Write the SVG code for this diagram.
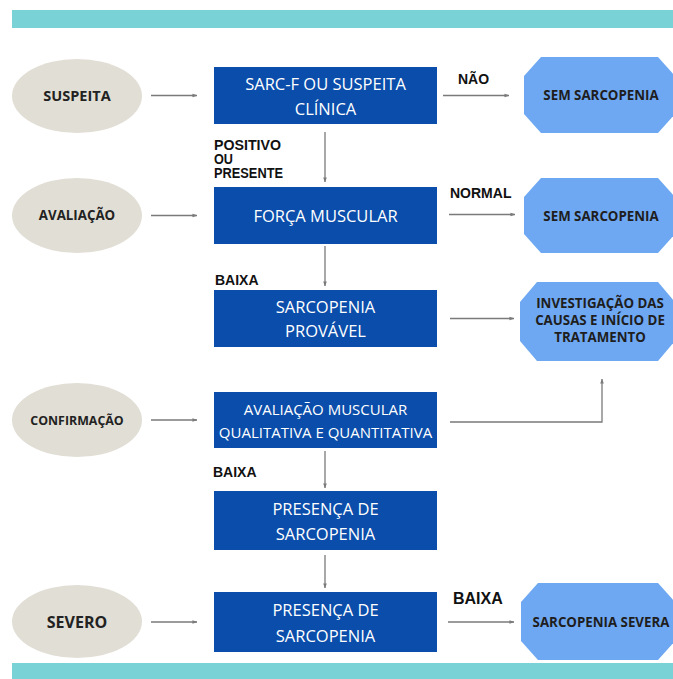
<svg xmlns="http://www.w3.org/2000/svg" width="673" height="679" viewBox="0 0 673 679">
<style>
.bar{fill:#79D2D6}
.stage{fill:#E1DED5}
.box{fill:#0A4DAA}
.oct{fill:#6FA8F2}
.st{font-family:"Open Sans","Noto Sans",sans-serif;font-weight:bold;fill:#222;text-anchor:middle}
.bt{font-family:"Open Sans","Noto Sans",sans-serif;font-size:16.5px;fill:#FFFFFF;text-anchor:middle}
.ot{font-family:"Open Sans","Noto Sans",sans-serif;font-weight:bold;fill:#1E1E1E;text-anchor:middle;font-size:13.3px}
.lb{font-family:"Liberation Sans",Arial,sans-serif;font-weight:bold;fill:#111;font-size:14px}
.cn{stroke:#7A7A7A;stroke-width:1.3;fill:none;marker-end:url(#ah)}
</style>
<defs>
<marker id="ah" viewBox="0 0 6 6" refX="5.5" refY="3" markerWidth="5" markerHeight="5" orient="auto" markerUnits="userSpaceOnUse">
<path d="M0,0.8 L6,3 L0,5.2 z" fill="#7A7A7A"/>
</marker>
</defs>
<rect x="0" y="0" width="673" height="679" fill="#FFFFFF"/>
<rect class="bar" x="12" y="10" width="661" height="18"/>
<rect class="bar" x="12" y="663" width="661" height="16"/>

<g id="connectors">
<line class="cn" x1="151" y1="95.5" x2="197" y2="95.5"/>
<line class="cn" x1="151" y1="215.5" x2="197" y2="215.5"/>
<line class="cn" x1="151" y1="420" x2="197" y2="420"/>
<line class="cn" x1="151" y1="622" x2="197" y2="622"/>
<line class="cn" x1="443" y1="95.5" x2="509" y2="95.5"/>
<line class="cn" x1="449" y1="214.5" x2="515" y2="214.5"/>
<line class="cn" x1="450" y1="318.5" x2="514" y2="318.5"/>
<line class="cn" x1="448" y1="622" x2="514" y2="622"/>
<line class="cn" x1="325" y1="132" x2="325" y2="182"/>
<line class="cn" x1="325" y1="246" x2="325" y2="286"/>
<line class="cn" x1="325" y1="451" x2="325" y2="488"/>
<line class="cn" x1="325" y1="555" x2="325" y2="588"/>
<polyline class="cn" points="450,422 602,422 602,379"/>
</g>

<g id="lbl-positivo">
<text class="lb" font-size="12" x="214" y="150" textLength="67" lengthAdjust="spacingAndGlyphs">POSITIVO</text>
<text class="lb" font-size="12" x="214" y="164" textLength="19" lengthAdjust="spacingAndGlyphs">OU</text>
<text class="lb" font-size="12" x="214" y="178" textLength="69" lengthAdjust="spacingAndGlyphs">PRESENTE</text>
</g>
<g id="lbl-nao"><text class="lb" x="458" y="84" font-size="15">NÃO</text></g>
<g id="lbl-normal"><text class="lb" x="450" y="198">NORMAL</text></g>
<g id="lbl-baixa1"><text class="lb" x="215" y="285">BAIXA</text></g>
<g id="lbl-baixa2"><text class="lb" x="213" y="477">BAIXA</text></g>
<g id="lbl-baixa3"><text class="lb" x="453" y="604" style="font-size:16px">BAIXA</text></g>

<g id="suspeita">
<ellipse class="stage" cx="77" cy="96" rx="65" ry="37"/>
<text class="st" x="77" y="100.5" font-size="14.5">SUSPEITA</text>
</g>
<g id="avaliacao">
<ellipse class="stage" cx="77" cy="215.5" rx="65" ry="37.5"/>
<text class="st" x="77" y="220" font-size="13.3">AVALIAÇÃO</text>
</g>
<g id="confirmacao">
<ellipse class="stage" cx="77" cy="420" rx="65" ry="37"/>
<text class="st" x="77" y="424.5" font-size="12.4">CONFIRMAÇÃO</text>
</g>
<g id="severo">
<ellipse class="stage" cx="77" cy="621.5" rx="65" ry="36.5"/>
<text class="st" x="77" y="627.5" font-size="16">SEVERO</text>
</g>

<g id="sarcf">
<rect class="box" x="214" y="67" width="223" height="57"/>
<text class="bt" x="325.5" y="90">SARC-F OU SUSPEITA</text>
<text class="bt" x="325.5" y="115">CLÍNICA</text>
</g>
<g id="forca">
<rect class="box" x="214" y="187" width="223" height="57"/>
<text class="bt" x="325.5" y="222">FORÇA MUSCULAR</text>
</g>
<g id="provavel">
<rect class="box" x="214" y="290" width="223" height="57"/>
<text class="bt" x="325.5" y="313">SARCOPENIA</text>
<text class="bt" x="325.5" y="337">PROVÁVEL</text>
</g>
<g id="avaliacao-muscular">
<rect class="box" x="214" y="392" width="223" height="56"/>
<text class="bt" x="325.5" y="415" style="font-size:15px">AVALIAÇÃO MUSCULAR</text>
<text class="bt" x="325.5" y="437.5" style="font-size:15px">QUALITATIVA E QUANTITATIVA</text>
</g>
<g id="presenca1">
<rect class="box" x="214" y="491" width="223" height="59"/>
<text class="bt" x="325.5" y="515">PRESENÇA DE</text>
<text class="bt" x="325.5" y="540">SARCOPENIA</text>
</g>
<g id="presenca2">
<rect class="box" x="214" y="592" width="223" height="60"/>
<text class="bt" x="325.5" y="616">PRESENÇA DE</text>
<text class="bt" x="325.5" y="642">SARCOPENIA</text>
</g>

<g id="sem1">
<polygon class="oct" points="541,57 658,57 675,76 675,114 658,133 541,133 524,114 524,76"/>
<text class="ot" x="601" y="100">SEM SARCOPENIA</text>
</g>
<g id="sem2">
<polygon class="oct" points="541,178 658,178 675,197 675,234 658,253 541,253 524,234 524,197"/>
<text class="ot" x="601" y="221">SEM SARCOPENIA</text>
</g>
<g id="investigacao">
<polygon class="oct" points="537,282 658,282 675,302 675,341 658,361 537,361 520,341 520,302"/>
<text class="ot" x="600" y="308">INVESTIGAÇÃO DAS</text>
<text class="ot" x="600" y="325">CAUSAS E INÍCIO DE</text>
<text class="ot" x="600" y="342">TRATAMENTO</text>
</g>
<g id="severa">
<polygon class="oct" points="538,583 658,583 675,602 675,641 658,660 538,660 521,641 521,602"/>
<text class="ot" x="601" y="627">SARCOPENIA SEVERA</text>
</g>
</svg>
